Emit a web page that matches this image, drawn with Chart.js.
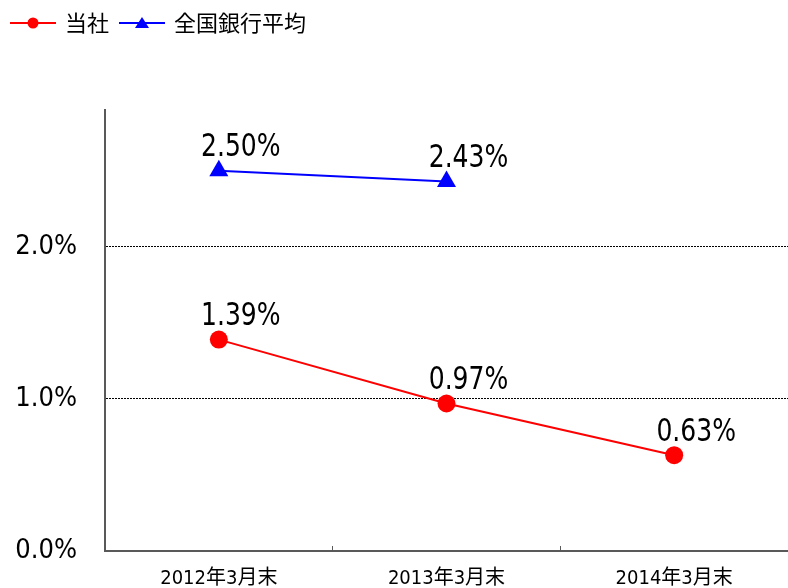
<!DOCTYPE html>
<html>
<head>
<meta charset="utf-8">
<script src="https://cdn.jsdelivr.net/npm/chart.js@4.4.0/dist/chart.umd.min.js"></script>
<style>
  html, body { margin: 0; padding: 0; background: #fff; }
</style>
</head>
<body>
<canvas id="chart" width="788" height="588"></canvas>
<script>
const categories = ["2012年3月末", "2013年3月末", "2014年3月末"];
const seriesNames = ["当社", "全国銀行平均"];
const companyRates = [1.39, 0.97, 0.63];
const nationalAvgRates = [2.50, 2.43, null];

const narrowFont = '"Liberation Sans Narrow", "DejaVu Sans Condensed", "Noto Sans CJK JP", sans-serif';

// legend marker: short line with the point marker in the middle
function legendIcon(color, shape) {
  const c = document.createElement("canvas");
  c.width = 46;
  c.height = 20;
  const g = c.getContext("2d");
  g.strokeStyle = color;
  g.fillStyle = color;
  g.lineWidth = 2;
  g.beginPath();
  g.moveTo(0, 10);
  g.lineTo(46, 10);
  g.stroke();
  g.beginPath();
  if (shape === "circle") {
    g.arc(23, 10, 5.5, 0, Math.PI * 2);
  } else {
    g.moveTo(23, 4);
    g.lineTo(30, 15);
    g.lineTo(16, 15);
    g.closePath();
  }
  g.fill();
  return c;
}
const legendIcons = [legendIcon("#ff0000", "circle"), legendIcon("#0000ff", "triangle")];

// value labels above each point (squeezed a bit, the original font is narrow)
const valueLabels = {
  id: "valueLabels",
  afterDatasetsDraw(chart) {
    const ctx = chart.ctx;
    const sx = 0.87;
    ctx.save();
    ctx.font = "32px " + narrowFont;
    ctx.fillStyle = "#000";
    ctx.textAlign = "center";
    ctx.textBaseline = "middle";
    chart.data.datasets.forEach((ds, i) => {
      chart.getDatasetMeta(i).data.forEach((pt, j) => {
        const v = ds.data[j];
        if (v === null || v === undefined) return;
        ctx.save();
        ctx.translate(pt.x + 22, pt.y - 23);
        ctx.scale(sx, 1);
        ctx.fillText(v.toFixed(2) + "%", 0, 0);
        ctx.restore();
      });
    });
    ctx.restore();
  }
};

// extra room under the legend
const legendGap = {
  id: "legendGap",
  beforeInit(chart) {
    const fit = chart.legend.fit;
    chart.legend.fit = function () {
      fit.call(this);
      this.height += 66;
    };
  }
};

new Chart(document.getElementById("chart").getContext("2d"), {
  type: "line",
  data: {
    labels: categories,
    datasets: [
      {
        label: seriesNames[0],
        data: companyRates,
        borderColor: "#ff0000",
        backgroundColor: "#ff0000",
        borderWidth: 2,
        pointStyle: "circle",
        pointRadius: 9,
        pointBorderWidth: 0,
        tension: 0,
        fill: false
      },
      {
        label: seriesNames[1],
        data: nationalAvgRates,
        borderColor: "#0000ff",
        backgroundColor: "#0000ff",
        borderWidth: 2,
        pointStyle: "triangle",
        pointRadius: 11,
        pointBorderWidth: 0,
        tension: 0,
        fill: false
      }
    ]
  },
  options: {
    responsive: false,
    animation: false,
    layout: { padding: 0, autoPadding: false },
    scales: {
      x: {
        offset: true,
        grid: {
          display: true,
          offset: true,
          drawOnChartArea: false,
          drawTicks: true,
          tickLength: -5,
          tickColor: "#595959",
          tickWidth: 1
        },
        border: { display: true, color: "#595959", width: 2 },
        ticks: {
          color: "#000",
          padding: 22,
          maxRotation: 0,
          font: { family: narrowFont, size: 20, lineHeight: 1.1 }
        },
        afterFit(scale) {
          scale.height = 37;
        }
      },
      y: {
        min: 0,
        max: 2.9,
        grid: {
          color: (c) => (c.tick && c.tick.value === 0 ? "rgba(0,0,0,0)" : "#000"),
          lineWidth: 1,
          drawTicks: false
        },
        border: { display: true, color: "#595959", width: 2, dash: [2, 1] },
        ticks: {
          stepSize: 1,
          includeBounds: false,
          padding: 28,
          color: "#000",
          font: { family: narrowFont, size: 27 },
          callback: (v) => v.toFixed(1) + "%"
        },
        afterFit(scale) {
          scale.width = 105;
          scale.paddingTop = 0;
          scale.paddingBottom = 0;
        }
      }
    },
    plugins: {
      legend: {
        display: true,
        position: "top",
        align: "start",
        labels: {
          usePointStyle: true,
          pointStyleWidth: 42,
          padding: 12,
          color: "#000",
          font: { family: '"Noto Sans CJK JP", sans-serif', size: 22 },
          generateLabels(chart) {
            const items = Chart.defaults.plugins.legend.labels.generateLabels(chart);
            items.forEach((it, i) => {
              it.pointStyle = legendIcons[i];
            });
            return items;
          }
        }
      },
      tooltip: { enabled: false },
      title: { display: false }
    }
  },
  plugins: [valueLabels, legendGap]
});
</script>
</body>
</html>
